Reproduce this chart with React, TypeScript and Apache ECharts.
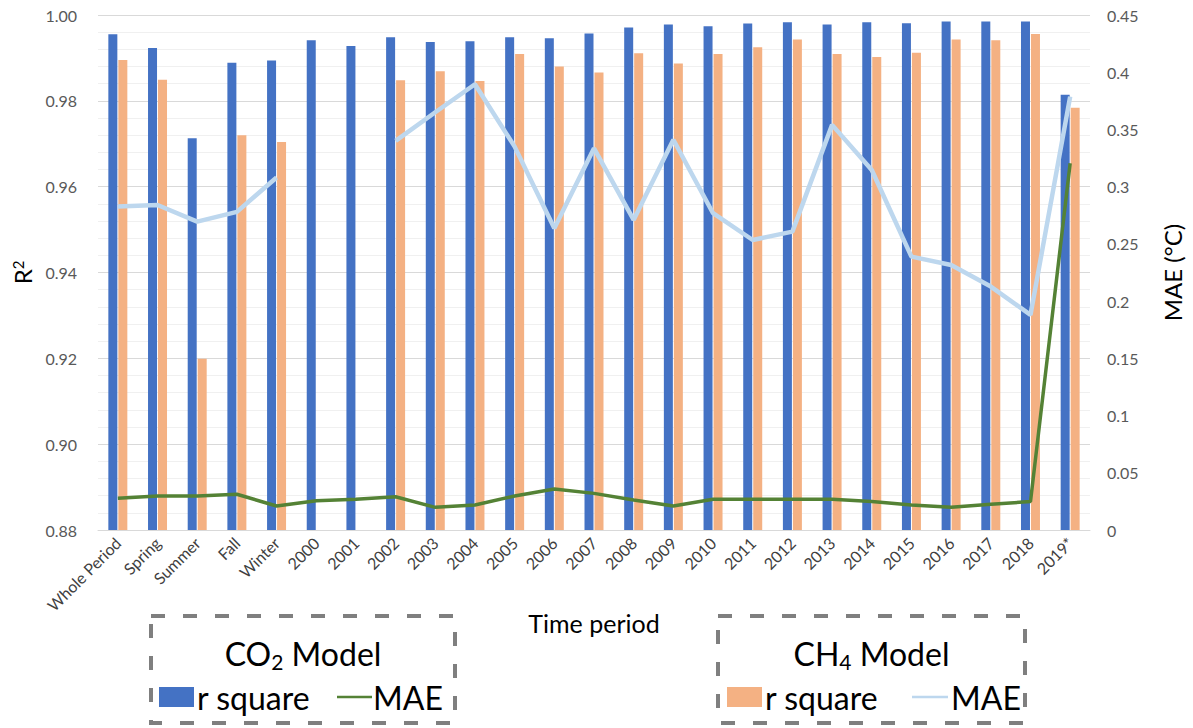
import React, { useEffect, useRef } from "react";
import * as echarts from "echarts";

const categories = [
  "Whole Period", "Spring", "Summer", "Fall", "Winter",
  "2000", "2001", "2002", "2003", "2004", "2005", "2006", "2007", "2008", "2009",
  "2010", "2011", "2012", "2013", "2014", "2015", "2016", "2017", "2018", "2019*",
];

const co2RSquare = [
  0.9955, 0.9923, 0.9713, 0.9889, 0.9894,
  0.9941, 0.9928, 0.9948, 0.9937, 0.9939, 0.9948, 0.9946, 0.9957, 0.9971, 0.9978,
  0.9974, 0.998, 0.9983, 0.9978, 0.9983, 0.9981, 0.9985, 0.9985, 0.9985, 0.9814,
];

const ch4RSquare = [
  0.9895, 0.9849, 0.9199, 0.972, 0.9704,
  null, null, 0.9848, 0.9869, 0.9846, 0.9909, 0.988, 0.9866, 0.9911, 0.9887,
  0.9909, 0.9925, 0.9943, 0.9909, 0.9902, 0.9912, 0.9943, 0.9941, 0.9956, 0.9784,
];

const co2MAE = [
  0.0277, 0.0297, 0.0297, 0.0312, 0.021,
  0.0256, 0.0268, 0.029, 0.0198, 0.0218, 0.0297, 0.0358, 0.032, 0.0262, 0.021,
  0.0268, 0.0268, 0.0268, 0.0268, 0.0248, 0.0218, 0.0198, 0.0224, 0.0248, 0.3205,
];

const ch4MAE = [
  0.2826, 0.284, 0.2695, 0.278, 0.308,
  null, null, 0.34, 0.365, 0.3895, 0.335, 0.2637, 0.3335, 0.271, 0.341,
  0.2768, 0.2534, 0.2607, 0.354, 0.3146, 0.2389, 0.2316, 0.2127, 0.188, 0.3787,
];

const leftTicks = { min: 0.88, max: 1.0, interval: 0.02 };
const rightTicks = { min: 0, max: 0.45, interval: 0.05 };

const FONT = "Lato, 'Noto Sans', sans-serif";
const BLUE = "#4472C4";
const ORANGE = "#F4B183";
const GREEN = "#548235";
const LIGHTBLUE = "#BDD7EE";

function legendBox(x: number, w: number, title: string, sub: string, swatch: string, lineColor: string, pos: any) {
  return {
    type: "group",
    children: [
      {
        type: "rect",
        shape: { x, y: 616, width: w, height: 107 },
        style: { fill: "none", stroke: "#7F7F7F", lineWidth: 4, lineDash: [14, 18] },
      },
      {
        type: "text",
        x: x + w / 2,
        y: 653,
        style: {
          text: `${title}{sub|${sub}} Model`,
          fontFamily: FONT,
          fontSize: 32,
          fontWeight: "normal",
          fill: "#000",
          align: "center",
          verticalAlign: "middle",
          lineHeight: 38,
          rich: {
            sub: { fontFamily: FONT, fontSize: 21, lineHeight: 19, verticalAlign: "bottom", fill: "#000" },
          },
        },
      },
      { type: "rect", shape: { x: pos.sw, y: 687, width: 35, height: 20 }, style: { fill: swatch } },
      {
        type: "text",
        x: pos.rs,
        y: 697,
        style: { text: "r square", fontFamily: FONT, fontSize: 32, fill: "#000", align: "left", verticalAlign: "middle" },
      },
      {
        type: "line",
        shape: { x1: pos.l1, y1: 697, x2: pos.l2, y2: 697 },
        style: { stroke: lineColor, lineWidth: 2.5 },
      },
      {
        type: "text",
        x: pos.mae,
        y: 697,
        style: { text: "MAE", fontFamily: FONT, fontSize: 32, fill: "#000", align: "left", verticalAlign: "middle" },
      },
    ],
  };
}

export default function App() {
  const ref = useRef<HTMLDivElement>(null);
  useEffect(() => {
    if (!ref.current) return;
    const chart = echarts.init(ref.current, null, { renderer: "svg" });
    chart.setOption({
      animation: false,
      backgroundColor: "#fff",
      textStyle: { fontFamily: FONT },
      grid: { left: 98, right: 103, top: 15, bottom: 198, containLabel: false },
      xAxis: {
        type: "category",
        data: categories,
        axisLine: { show: true, lineStyle: { color: "#D9D9D9", width: 1 } },
        axisTick: { show: false },
        axisLabel: { rotate: 45, fontSize: 16, color: "#404040", margin: 10, interval: 0, fontFamily: FONT },
        name: "Time period",
        nameLocation: "middle",
        nameGap: 80,
        nameMoveOverlap: false,
        nameTextStyle: { fontSize: 25, fontWeight: "normal", color: "#000", fontFamily: FONT },
      },
      yAxis: [
        {
          type: "value",
          min: leftTicks.min,
          max: leftTicks.max,
          interval: leftTicks.interval,
          axisLine: { show: false },
          axisTick: { show: false },
          axisLabel: { fontSize: 16, color: "#595959", margin: 21, formatter: (v: number) => v.toFixed(2), fontFamily: FONT },
          splitLine: { show: true, lineStyle: { color: "#D9D9D9", width: 1 } },
          minorTick: { show: false, splitNumber: 5 },
          minorSplitLine: { show: true, lineStyle: { color: "#F0F0F0", width: 1 } },
          name: "R{sup|2}",
          nameLocation: "middle",
          nameRotate: 90,
          nameGap: 64,
          nameTextStyle: {
            fontSize: 24,
            color: "#000",
            fontFamily: FONT,
            rich: { sup: { fontSize: 15, verticalAlign: "top", lineHeight: 15, fontFamily: FONT, color: "#000" } },
          },
        },
        {
          type: "value",
          min: rightTicks.min,
          max: rightTicks.max,
          interval: rightTicks.interval,
          position: "right",
          axisLine: { show: false },
          axisTick: { show: false },
          axisLabel: { fontSize: 16, color: "#595959", margin: 17, fontFamily: FONT },
          splitLine: { show: false },
          name: "MAE (°C)",
          nameLocation: "middle",
          nameRotate: 90,
          nameGap: 70,
          nameTextStyle: { fontSize: 24, color: "#000", fontFamily: FONT },
        },
      ],
      series: [
        {
          name: "CO2 r square",
          type: "bar",
          data: co2RSquare,
          barWidth: 9,
          barGap: "11%",
          itemStyle: { color: BLUE },
          clip: true,
        },
        {
          name: "CH4 r square",
          type: "bar",
          data: ch4RSquare,
          barWidth: 9,
          barGap: "11%",
          itemStyle: { color: ORANGE },
          clip: true,
        },
        {
          name: "CH4 MAE",
          type: "line",
          yAxisIndex: 1,
          data: ch4MAE,
          symbol: "none",
          connectNulls: false,
          lineStyle: { color: LIGHTBLUE, width: 4.5 },
        },
        {
          name: "CO2 MAE",
          type: "line",
          yAxisIndex: 1,
          data: co2MAE,
          symbol: "none",
          lineStyle: { color: GREEN, width: 3.5 },
        },
      ],
      graphic: [
        legendBox(151, 304, "CO", "2", BLUE, GREEN, { sw: 159, rs: 197, l1: 337, l2: 372, mae: 373 }),
        legendBox(718, 307, "CH", "4", ORANGE, LIGHTBLUE, { sw: 727, rs: 765, l1: 912, l2: 948, mae: 951 }),
      ],
    });
    return () => chart.dispose();
  }, []);
  return (
    <div
      ref={ref}
      style={{ position: "fixed", left: 0, top: 0, width: 1193, height: 728, background: "#fff" }}
    />
  );
}
